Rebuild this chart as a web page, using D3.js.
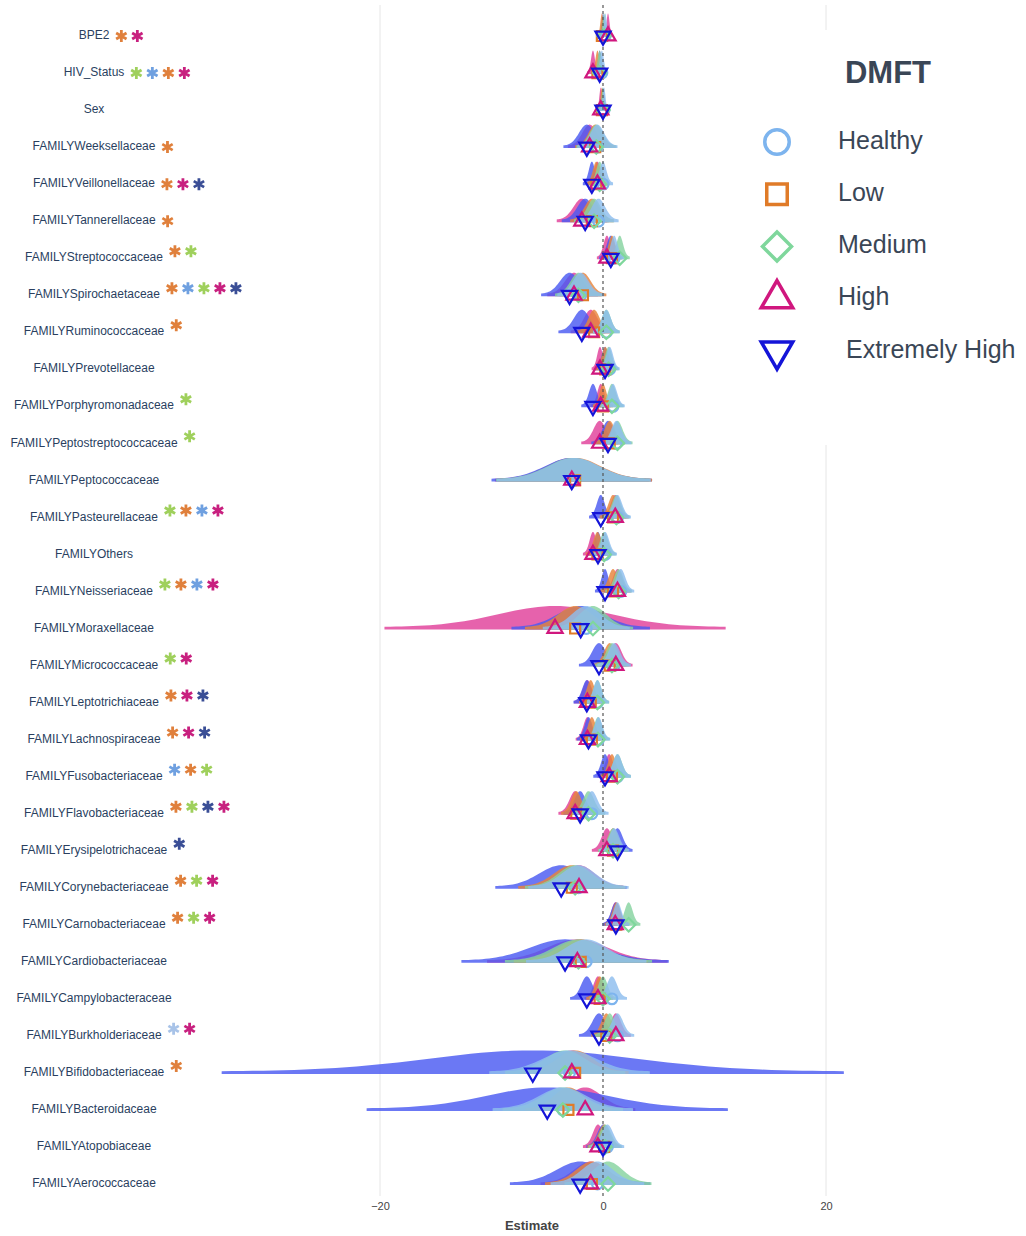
<!DOCTYPE html>
<html>
<head>
<meta charset="utf-8">
<script src="https://cdn.jsdelivr.net/npm/d3@7"></script>
<style>
  body { margin: 0; background: #fff; }
  svg { font-family: "Liberation Sans", Arial, Helvetica, sans-serif; }
</style>
</head>
<body>
<div id="chart"></div>
<script>
// ---- data ----
const labels = ["BPE2", "HIV_Status", "Sex", "FAMILYWeeksellaceae", "FAMILYVeillonellaceae",
  "FAMILYTannerellaceae", "FAMILYStreptococcaceae", "FAMILYSpirochaetaceae", "FAMILYRuminococcaceae",
  "FAMILYPrevotellaceae", "FAMILYPorphyromonadaceae", "FAMILYPeptostreptococcaceae", "FAMILYPeptococcaceae",
  "FAMILYPasteurellaceae", "FAMILYOthers", "FAMILYNeisseriaceae", "FAMILYMoraxellaceae",
  "FAMILYMicrococcaceae", "FAMILYLeptotrichiaceae", "FAMILYLachnospiraceae", "FAMILYFusobacteriaceae",
  "FAMILYFlavobacteriaceae", "FAMILYErysipelotrichaceae", "FAMILYCorynebacteriaceae",
  "FAMILYCarnobacteriaceae", "FAMILYCardiobacteriaceae", "FAMILYCampylobacteraceae",
  "FAMILYBurkholderiaceae", "FAMILYBifidobacteriaceae", "FAMILYBacteroidaceae", "FAMILYAtopobiaceae",
  "FAMILYAerococcaceae"];

const groups = ["Healthy", "Low", "Medium", "High", "Extremely High"];

// posterior means per group, one value per row
const healthyMean = [0.2, -0.1, 0.1, -0.5, 0.0, -0.4, 1.0, -2.0, 0.3, 0.6, 0.9, 1.2, -2.6, 1.3, 0.2, 1.6,
  -1.5, 1.0, -0.5, -0.4, 1.3, -1.0, 1.0, -2.2, 1.3, -1.5, 0.8, 1.3, -3.0, -3.6, 0.4, -0.5];
const lowMean = [-0.1, -0.5, -0.1, -0.7, -0.6, -1.0, 0.8, -1.8, -0.8, 0.2, 0.0, 0.6, -2.5, 0.9, -0.5, 0.9,
  -2.5, 0.6, -1.1, -1.0, 0.8, -2.4, 0.9, -2.8, 1.2, -2.0, -0.3, 0.3, -2.5, -3.1, 0.1, -1.0];
const mediumMean = [0.1, -0.3, 0.0, -0.6, -0.3, -0.8, 1.5, -2.2, 0.3, 0.5, 0.8, 1.3, -2.7, 1.2, 0.1, 1.4,
  -0.9, 0.8, -0.5, -0.45, 1.3, -1.3, 0.9, -2.5, 2.3, -2.2, 0.0, 0.6, -3.4, -3.6, 0.2, 0.45];
const highMean = [0.45, -0.9, -0.2, -1.2, -0.5, -1.9, 0.35, -2.6, -1.1, -0.27, -0.2, -0.3, -2.8, 1.1, -0.9, 1.3,
  -4.3, 1.15, -1.4, -1.4, 0.55, -2.5, 0.35, -2.15, 1.1, -2.3, -0.45, 1.15, -2.8, -1.6, -0.45, -1.1];
const extremeMean = [0.0, -0.3, 0.0, -1.45, -1.0, -1.6, 0.7, -3.0, -1.9, 0.18, -0.9, 0.45, -2.8, -0.2, -0.45, 0.18,
  -2.0, -0.36, -1.45, -1.3, 0.18, -2.05, 1.3, -3.75, 1.15, -3.4, -1.45, -0.36, -6.3, -5.0, 0.0, -2.05];

// posterior standard deviations per group
const healthySd = [0.13, 0.17, 0.12, 0.6, 0.3, 0.6, 0.3, 0.7, 0.4, 0.3, 0.35, 0.45, 2.3, 0.4, 0.35, 0.4,
  1.3, 0.5, 0.35, 0.35, 0.4, 0.5, 0.45, 1.5, 0.35, 1.8, 0.45, 0.5, 2.4, 2.1, 0.5, 1.4];
const lowSd = [0.13, 0.17, 0.12, 0.6, 0.3, 0.65, 0.3, 0.7, 0.5, 0.3, 0.3, 0.45, 2.3, 0.4, 0.35, 0.4,
  1.5, 0.5, 0.35, 0.35, 0.35, 0.45, 0.45, 1.6, 0.35, 2.0, 0.4, 0.45, 1.6, 1.3, 0.5, 1.4];
const mediumSd = [0.13, 0.17, 0.12, 0.6, 0.3, 0.6, 0.3, 0.7, 0.4, 0.3, 0.35, 0.45, 2.3, 0.4, 0.35, 0.4,
  1.2, 0.5, 0.35, 0.35, 0.4, 0.5, 0.45, 1.5, 0.35, 2.2, 0.4, 0.45, 1.8, 1.8, 0.5, 1.3];
const highSd = [0.13, 0.17, 0.12, 0.65, 0.3, 0.75, 0.3, 0.8, 0.6, 0.25, 0.3, 0.55, 2.3, 0.4, 0.3, 0.4,
  5.1, 0.5, 0.4, 0.35, 0.35, 0.5, 0.45, 1.4, 0.35, 2.7, 0.4, 0.45, 1.5, 1.5, 0.45, 1.5];
const extremeSd = [0.13, 0.17, 0.12, 0.7, 0.27, 0.7, 0.35, 0.85, 0.7, 0.3, 0.35, 0.5, 2.4, 0.35, 0.3, 0.3,
  2.07, 0.6, 0.4, 0.35, 0.35, 0.5, 0.45, 1.97, 0.4, 3.1, 0.5, 0.6, 9.3, 5.4, 0.5, 2.1];

// significance stars next to each label (O orange, M magenta, G green, B blue, N navy, P pale blue)
const starCodes = ["OM", "GBOM", "", "O", "OMN", "O", "OG", "OBGMN", "O", "", "G", "G", "", "GOBM", "",
  "GOBM", "", "GM", "OMN", "OMN", "BOG", "OGNM", "N", "OGM", "OGM", "", "", "PM", "O", "", "", ""];

const xTicks = [-20, 0, 20];

// ---- chart ----
function ridgeChart() {
  const width = 1026, height = 1236;
  const peak = 21;

  const meanOf = {"Healthy": healthyMean, "Low": lowMean, "Medium": mediumMean,
    "High": highMean, "Extremely High": extremeMean};
  const sdOf = {"Healthy": healthySd, "Low": lowSd, "Medium": mediumSd,
    "High": highSd, "Extremely High": extremeSd};

  const fillColor = d3.scaleOrdinal().domain(groups)
    .range(["#8dbdee", "#e8843a", "#86d3a0", "#e0409a", "#4a5af2"]);
  const markColor = d3.scaleOrdinal().domain(groups)
    .range(["#7db4ee", "#e07b28", "#7fd79c", "#d0177e", "#1414d8"]);
  const starColor = {O: "#e0803c", M: "#c8207f", G: "#9fd05c", B: "#6fa0e0", N: "#3a4e96", P: "#a8c3e8"};

  const x = d3.scaleLinear().domain([-20, 20]).range([380, 826]);
  const y = d3.scalePoint().domain(labels).range([36, 1184]);

  const svg = d3.select("#chart").append("svg")
    .attr("width", width)
    .attr("height", height);

  // grid lines
  svg.append("g").selectAll("line")
    .data(xTicks.filter(d => d !== 0))
    .join("line")
      .attr("x1", d => x(d)).attr("x2", d => x(d))
      .attr("y1", 5).attr("y2", 1196)
      .attr("stroke", "#e6e6e6")
      .attr("stroke-width", 1);

  // x axis
  const axis = svg.append("g")
    .attr("transform", "translate(0,1196)")
    .call(d3.axisBottom(x).tickValues(xTicks).tickSize(0).tickPadding(6))
    .call(g => g.select(".domain").remove());
  axis.selectAll("text")
    .attr("font-size", 11)
    .attr("fill", "#444")
    .attr("font-family", "'Liberation Sans', Arial, sans-serif");

  svg.append("text")
    .attr("x", 532).attr("y", 1230)
    .attr("text-anchor", "middle")
    .attr("font-size", 13)
    .attr("font-weight", "bold")
    .attr("fill", "#444")
    .text("Estimate");

  // densities
  const drawOrder = ["High", "Extremely High", "Low", "Medium", "Healthy"];
  const area = d3.area()
    .x(p => x(p.v))
    .y0(p => p.base + 1)
    .y1(p => p.base - 1.5 - peak * Math.exp(-p.z * p.z / 2));

  const rows = svg.append("g");
  labels.forEach((lab, i) => {
    const base = y(lab);
    drawOrder.forEach(gname => {
      const m = meanOf[gname][i], s = sdOf[gname][i];
      const pts = d3.range(-3, 3.001, 0.1).map(z => ({v: m + z * s, z: z, base: base}));
      rows.append("path")
        .attr("d", area(pts))
        .attr("fill", fillColor(gname))
        .attr("fill-opacity", 0.82);
    });
  });

  // zero line
  svg.append("line")
    .attr("x1", x(0)).attr("x2", x(0))
    .attr("y1", 5).attr("y2", 1196)
    .attr("stroke", "#555")
    .attr("stroke-width", 1.2)
    .attr("stroke-dasharray", "3,3");

  // markers
  const shapeOf = {
    "Healthy": {type: d3.symbolCircle, size: 90, rot: 0},
    "Low": {type: d3.symbolSquare, size: 100, rot: 0},
    "Medium": {type: d3.symbolSquare, size: 90, rot: 45},
    "High": {type: d3.symbolTriangle, size: 100, rot: 0},
    "Extremely High": {type: d3.symbolTriangle, size: 100, rot: 180}
  };
  const marks = svg.append("g");
  labels.forEach((lab, i) => {
    groups.forEach(gname => {
      const sh = shapeOf[gname];
      marks.append("path")
        .attr("d", d3.symbol().type(sh.type).size(sh.size)())
        .attr("transform", `translate(${x(meanOf[gname][i])},${y(lab)}) rotate(${sh.rot})`)
        .attr("fill", "none")
        .attr("stroke", markColor(gname))
        .attr("stroke-width", 2.2);
    });
  });

  // row labels
  const labelG = svg.append("g");
  labels.forEach((lab, i) => {
    const t = labelG.append("text")
      .attr("x", 94).attr("y", y(lab))
      .attr("text-anchor", "middle")
      .attr("dominant-baseline", "middle")
      .attr("font-size", 12)
      .attr("fill", "#2a3f5f")
      .text(lab);
    const end = 94 + t.node().getComputedTextLength() / 2;
    const lift = i < 6 ? 0 : 7;
    starCodes[i].split("").forEach((c, k) => {
      const cx = end + 12 + k * 16, cy = y(lab) - lift;
      const r = 6;
      const p = d3.path();
      [90, 30, -30].forEach(a => {
        const rad = a * Math.PI / 180;
        p.moveTo(cx - r * Math.cos(rad), cy - r * Math.sin(rad));
        p.lineTo(cx + r * Math.cos(rad), cy + r * Math.sin(rad));
      });
      labelG.append("path")
        .attr("d", p.toString())
        .attr("stroke", starColor[c])
        .attr("stroke-width", 2.8)
        .attr("fill", "none");
    });
  });

  // legend
  const leg = svg.append("g");
  leg.append("rect")
    .attr("x", 740).attr("y", 30).attr("width", 286).attr("height", 415)
    .attr("fill", "#fff");
  leg.append("text")
    .attr("x", 888).attr("y", 83)
    .attr("text-anchor", "middle")
    .attr("font-size", 31)
    .attr("font-weight", "bold")
    .attr("fill", "#3a4656")
    .text("DMFT");
  const legShape = {
    "Healthy": {type: d3.symbolCircle, size: 470, rot: 0},
    "Low": {type: d3.symbolSquare, size: 420, rot: 0},
    "Medium": {type: d3.symbolSquare, size: 420, rot: 45},
    "High": {type: d3.symbolTriangle, size: 430, rot: 0},
    "Extremely High": {type: d3.symbolTriangle, size: 430, rot: 180}
  };
  const legY = d3.scalePoint().domain(groups).range([142, 351]);
  groups.forEach(gname => {
    const sh = legShape[gname];
    leg.append("path")
      .attr("d", d3.symbol().type(sh.type).size(sh.size)())
      .attr("transform", `translate(777,${legY(gname)}) rotate(${sh.rot})`)
      .attr("fill", "none")
      .attr("stroke", markColor(gname))
      .attr("stroke-width", 3.5);
    leg.append("text")
      .attr("x", gname === "Extremely High" ? 846 : 838)
      .attr("y", legY(gname))
      .attr("dominant-baseline", "middle")
      .attr("font-size", 25)
      .attr("fill", "#3a4656")
      .text(gname);
  });
}

window.onload = ridgeChart;
</script>
</body>
</html>
